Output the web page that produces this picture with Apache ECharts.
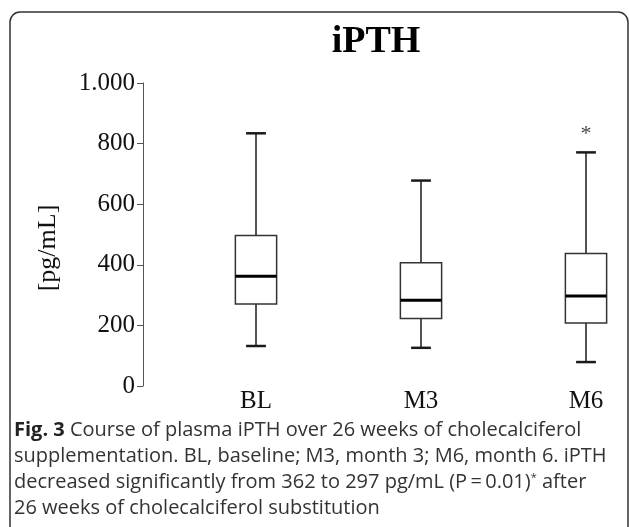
<!DOCTYPE html>
<html>
<head>
<meta charset="utf-8">
<title>iPTH</title>
<script src="https://cdn.jsdelivr.net/npm/echarts@6/dist/echarts.min.js"></script>
<style>
  html, body { margin: 0; padding: 0; background: #fff; }
  #chartId { width: 629px; height: 527px; }
</style>
</head>
<body>
<div id="chartId"></div>
<script>
  // time points
  const categories = ['BL', 'M3', 'M6'];
  // box values, pg/mL
  const lowerWhisker = [132, 126, 79];
  const q1Values = [271, 223, 208];
  const medianValues = [362, 283, 297];
  const q3Values = [497, 407, 437];
  const upperWhisker = [834, 678, 771];
  // significance marks above the whiskers
  const sigMarks = ['', '', '*'];
  const yTicks = [0, 200, 400, 600, 800, 1000];

  const captionLines = [
    '{b|Fig. 3} Course of plasma iPTH over 26 weeks of cholecalciferol',
    'supplementation. BL, baseline; M3, month 3; M6, month 6. iPTH',
    'decreased significantly from 362 to 297 pg/mL (P\u2009=\u20090.01){sup|*} after',
    '26 weeks of cholecalciferol substitution'
  ];

  const serif = 'Liberation Serif, Times New Roman, serif';
  const lineColor = '#1a1a1a';

  const boxData = categories.map((c, i) => [i, lowerWhisker[i], q1Values[i], medianValues[i], q3Values[i], upperWhisker[i]]);
  const sigData = [];
  sigMarks.forEach((m, i) => {
    if (m) sigData.push([i, upperWhisker[i], m]);
  });

  function renderBox(params, api) {
    const idx = api.value(0);
    const pMin = api.coord([idx, api.value(1)]);
    const pQ1 = api.coord([idx, api.value(2)]);
    const pMed = api.coord([idx, api.value(3)]);
    const pQ3 = api.coord([idx, api.value(4)]);
    const pMax = api.coord([idx, api.value(5)]);
    const step = api.size([1, 0])[0];
    const halfBox = step * 0.125;
    const halfCap = step * 0.06;
    const x = pMed[0];
    const thin = { stroke: lineColor, lineWidth: 1.5, fill: null };
    return {
      type: 'group',
      children: [
        { type: 'line', shape: { x1: x, y1: pMax[1], x2: x, y2: pQ3[1] }, style: thin },
        { type: 'line', shape: { x1: x, y1: pQ1[1], x2: x, y2: pMin[1] }, style: thin },
        { type: 'line', shape: { x1: x - halfCap, y1: pMax[1], x2: x + halfCap, y2: pMax[1] }, style: { stroke: lineColor, lineWidth: 2.5 } },
        { type: 'line', shape: { x1: x - halfCap, y1: pMin[1], x2: x + halfCap, y2: pMin[1] }, style: { stroke: lineColor, lineWidth: 2.5 } },
        { type: 'rect', shape: { x: x - halfBox, y: pQ3[1], width: halfBox * 2, height: pQ1[1] - pQ3[1] }, style: { stroke: '#333', lineWidth: 1.5, fill: '#fff' } },
        { type: 'line', shape: { x1: x - halfBox, y1: pMed[1], x2: x + halfBox, y2: pMed[1] }, style: { stroke: '#000', lineWidth: 3 } }
      ]
    };
  }

  const myChart = echarts.init(document.getElementById('chartId'));

  const captionGraphics = captionLines.map((t, i) => ({
    type: 'text',
    left: 14,
    top: 420 + i * 26,
    style: {
      text: t,
      fill: '#333',
      font: '20px "Open Sans", sans-serif',
      rich: {
        b: { fontWeight: 'bold', fontSize: 20, fontFamily: 'Open Sans', fill: '#222' },
        sup: { fontSize: 11, fontFamily: 'Open Sans', fill: '#333', verticalAlign: 'top', padding: [0, 0, 10, 0] }
      }
    }
  }));

  let initOption = {
    animation: false,
    backgroundColor: '#fff',
    grid: {
      left: 256,
      right: 43,
      top: 83,
      bottom: 141
    },
    xAxis: {
      type: 'category',
      data: categories,
      boundaryGap: false,
      axisLine: { show: false },
      axisTick: { show: false },
      axisLabel: {
        margin: 3,
        fontSize: 25,
        fontFamily: serif,
        color: '#111'
      }
    },
    yAxis: {
      type: 'value',
      min: yTicks[0],
      max: yTicks[yTicks.length - 1],
      interval: yTicks[1] - yTicks[0],
      offset: 113,
      splitLine: { show: false },
      axisLine: { show: true, lineStyle: { color: '#555', width: 1 } },
      axisTick: { show: true, length: 6, lineStyle: { color: '#555', width: 1 } },
      axisLabel: {
        margin: 8,
        fontSize: 25,
        fontFamily: serif,
        color: '#111',
        formatter: v => String(v).replace(/\B(?=(\d{3})+(?!\d))/g, '.')
      }
    },
    series: [
      {
        name: 'iPTH',
        type: 'custom',
        renderItem: renderBox,
        encode: { x: 0, y: [1, 2, 3, 4, 5] },
        data: boxData,
        z: 3
      },
      {
        name: 'sig',
        type: 'scatter',
        symbolSize: 0,
        data: sigData,
        label: {
          show: true,
          position: 'top',
          distance: 7,
          formatter: p => p.value[2],
          fontSize: 22,
          fontFamily: serif,
          color: '#111'
        }
      }
    ],
    graphic: [
      {
        type: 'rect',
        shape: { x: 10, y: 12, width: 618, height: 540, r: 10 },
        style: { stroke: '#333', lineWidth: 1.5, fill: null },
        silent: true
      },
      {
        type: 'text',
        x: 376,
        y: 42,
        style: {
          text: 'iPTH',
          font: 'bold 38px ' + serif,
          fill: '#000',
          align: 'center',
          verticalAlign: 'middle'
        }
      },
      {
        type: 'text',
        x: 48,
        y: 248,
        rotation: Math.PI / 2,
        style: {
          text: '[pg/mL]',
          font: '26px ' + serif,
          fill: '#111',
          align: 'center',
          verticalAlign: 'middle'
        }
      }
    ].concat(captionGraphics)
  };

  myChart.setOption(initOption);
  window.addEventListener('resize', () => myChart.resize(), false);
</script>
</body>
</html>
